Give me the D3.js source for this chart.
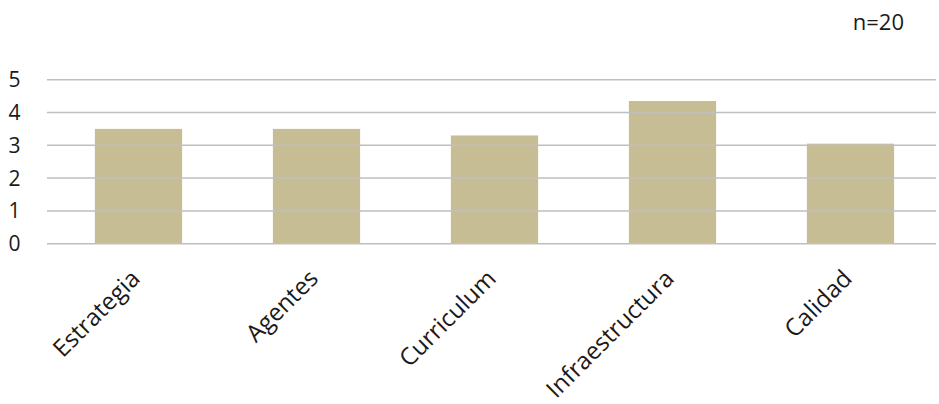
<!DOCTYPE html>
<html><head><meta charset="utf-8">
<script src="https://cdn.jsdelivr.net/npm/d3@7/dist/d3.min.js"></script>
<style>body{margin:0;background:#fff}svg{display:block}</style>
</head><body>
<svg id="c" width="939" height="404"></svg>
<script>
const categories = ["Estrategia","Agentes","Curriculum","Infraestructura","Calidad"];
const values = [3.5, 3.5, 3.3, 4.35, 3.05];
const yTicks = [0,1,2,3,4,5];
const note = "n=20";

const svg = d3.select("#c");
const font = "'Open Sans', sans-serif";
const x = d3.scaleBand().domain(categories).range([49.5, 939.5]).paddingInner(0.51).paddingOuter(0.255);
const y = d3.scaleLinear().domain([0,5]).range([243.7, 79.7]);

svg.append("g").selectAll("rect").data(values).join("rect")
  .attr("x", (d,i) => x(categories[i]))
  .attr("width", x.bandwidth())
  .attr("y", d => y(d))
  .attr("height", d => y(0) - y(d))
  .attr("fill", "#c6bd94");

svg.append("g").selectAll("line").data(yTicks).join("line")
  .attr("x1", 47).attr("x2", 936)
  .attr("y1", d => y(d)).attr("y2", d => y(d))
  .attr("stroke", "#bfbfbf").attr("stroke-width", 1.5);

svg.append("g").selectAll("text").data(yTicks).join("text")
  .attr("x", 14.5).attr("y", d => y(d)).attr("dy", "0.36em")
  .attr("text-anchor", "middle")
  .attr("font-family", font).attr("font-size", 21).attr("fill", "#1a1a1a")
  .text(d => d);

svg.append("g").selectAll("text").data(categories).join("text")
  .attr("transform", d => `translate(${x(d) + x.bandwidth()/2 + 3},${280}) rotate(-45)`)
  .attr("text-anchor", "end")
  .attr("font-family", font).attr("font-size", 24).attr("fill", "#1a1a1a")
  .text(d => d);

svg.append("text").attr("x", 904).attr("y", 30).attr("text-anchor", "end")
  .attr("font-family", font).attr("font-size", 22).attr("fill", "#1a1a1a")
  .text(note);
</script>
</body></html>
